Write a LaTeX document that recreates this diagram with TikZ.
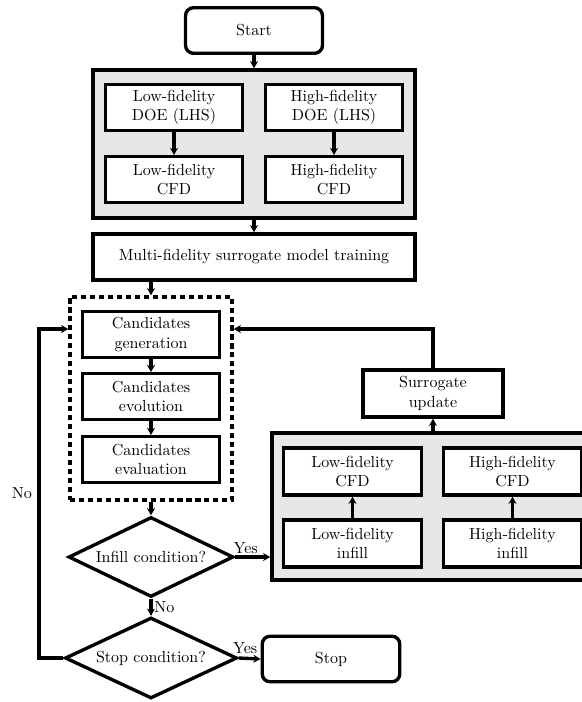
\documentclass[tikz,border=0pt]{standalone}
\usepackage{amsmath}
\usepackage{tikz}
\usetikzlibrary{shapes.geometric, arrows.meta, positioning}
\definecolor{panelgray}{RGB}{230,231,232}

\begin{document}
\begin{tikzpicture}[x=0.625pt, y=-0.625pt, line width=2.1pt,
		block/.style={draw, fill=white, align=center, minimum width=86pt, minimum height=28.5pt, inner sep=1pt},
		term/.style={block, rounded corners=5pt},
		panel/.style={draw, fill=panelgray},
		decision/.style={draw, diamond, aspect=2, inner sep=0pt, fill=white},
		arr/.style={-{Stealth[length=4.5pt, width=5pt]}}]
			\useasboundingbox (0,0) rectangle (582,702);
			\clip (0,0) rectangle (582,702);
			% initial sampling
			\node[term, minimum width=85.6pt] at (254,30.5) (start){Start};
			\node[panel, minimum width=201.3pt, minimum height=92.5pt] at (254,144) (doe){};
			\node[block] at (174,107.5) (lodoe){Low-fidelity\\DOE (LHS)};
			\node[block] at (334,107.5) (hidoe){High-fidelity\\DOE (LHS)};
			\node[block] at (174,179.5) (locfd){Low-fidelity\\CFD};
			\node[block] at (334,179.5) (hicfd){High-fidelity\\CFD};
			\node[block, minimum width=201.3pt, minimum height=28.8pt] at (254,257) (train){Multi-fidelity surrogate model training};
			% optimisation loop
			\node[draw, dash pattern=on 3.2pt off 2.4pt, minimum width=101.3pt, minimum height=126.9pt] at (151,398.5) (loop){};
			\node[block] at (151,334.5) (gen){Candidates\\generation};
			\node[block] at (151,396.5) (evol){Candidates\\evolution};
			\node[block] at (151,459.5) (eval){Candidates\\evaluation};
			\node[decision, minimum width=103.1pt, minimum height=50pt] at (151,557) (infill){Infill condition?};
			\node[decision, minimum width=107.5pt, minimum height=50.6pt] at (151,658) (stopcond){Stop condition?};
			\node[term] at (331,659) (stop){Stop};
			% infill
			\node[panel, minimum width=201.3pt, minimum height=91.9pt] at (433,506.5) (upd){};
			\node[block, minimum height=29.4pt] at (352.5,471.5) (locfdb){Low-fidelity\\CFD};
			\node[block, minimum height=29.4pt] at (352.5,543.5) (loinf){Low-fidelity\\infill};
			\node[block, minimum height=29.4pt] at (512.5,471.5) (hicfdb){High-fidelity\\CFD};
			\node[block, minimum height=29.4pt] at (512.5,543.5) (hiinf){High-fidelity\\infill};
			\node[block, minimum width=87.5pt, minimum height=29.4pt] at (433,393.5) (surr){Surrogate\\update};
			\coordinate (back) at (39,329);
			\draw[arr] (start) -- (doe);
			\draw[arr] (lodoe) -- (locfd);
			\draw[arr] (hidoe) -- (hicfd);
			\draw[arr] (doe) -- (train);
			\draw[arr] (train.south -| loop) -- (loop.north);
			\draw[arr] (gen) -- (evol);
			\draw[arr] (evol) -- (eval);
			\draw[arr] (loop.south) -- (infill.north);
			\draw[arr] (infill.south) -- node[right, inner sep=1pt]{No} (stopcond.north);
			\draw[arr] (infill.east) -- node[above, pos=0.3, inner sep=1pt]{Yes} (upd.west |- infill.east);
			\draw[arr] (stopcond.east) -- node[above, pos=0.3, inner sep=2pt]{Yes} (stop.west);
			\draw[arr] (loinf) -- (locfdb);
			\draw[arr] (hiinf) -- (hicfdb);
			\draw[arr] (upd.north -| surr) -- (surr.south);
			\draw[arr] (surr.north) |- (loop.east |- back);
			\draw[arr] (stopcond.west) -| node[pos=0.75, left]{No} (back) -- (loop.west |- back);
		\end{tikzpicture}
\end{document}
